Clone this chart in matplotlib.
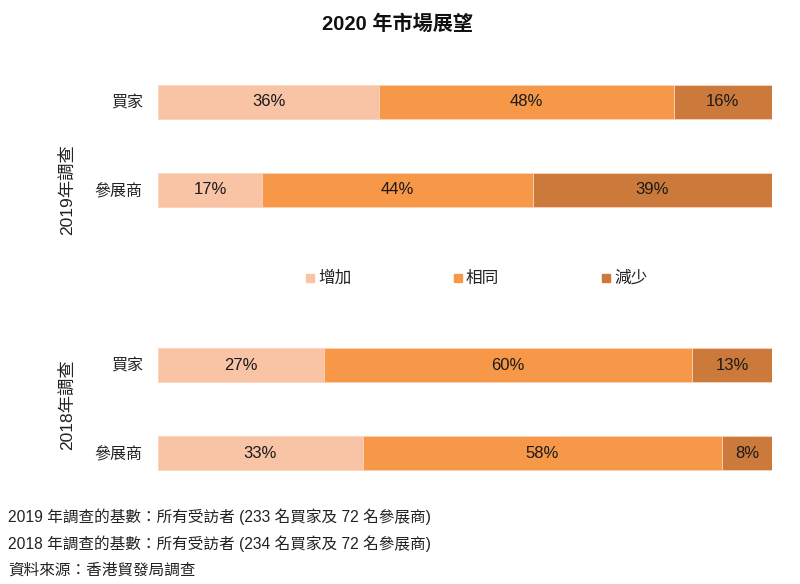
import matplotlib
matplotlib.use("Agg")
import matplotlib.pyplot as plt
from matplotlib.patches import Rectangle

plt.rcParams['font.family'] = ['Liberation Sans', 'Noto Sans CJK TC', 'DejaVu Sans']

title = "2020 年市場展望"
categories = ["買家", "參展商"]
series_names = ["增加", "相同", "減少"]
colors = ["#F9C3A6", "#F79748", "#CB7A3B"]
survey_2019 = {"增加": [36, 17], "相同": [48, 44], "減少": [16, 39]}
survey_2018 = {"增加": [27, 33], "相同": [60, 58], "減少": [13, 8]}
group_labels = ["2019年調查", "2018年調查"]
notes = [
    "2019 年調查的基數：所有受訪者 (233 名買家及 72 名參展商)",
    "2018 年調查的基數：所有受訪者 (234 名買家及 72 名參展商)",
    "資料來源：香港貿發局調查",
]

W, H = 800, 584
fig = plt.figure(figsize=(8, 5.84), dpi=100)

def fx(px): return px / W
def fy(py): return 1 - py / H

def draw_group(ax, data):
    ys = list(range(len(categories)))
    totals = [sum(data[n][i] for n in series_names) for i in ys]
    left = [0.0] * len(categories)
    for name, col in zip(series_names, colors):
        vals = data[name]
        widths = [v / t * 100 for v, t in zip(vals, totals)]
        ax.barh(ys, widths, left=left, height=0.386, color=col,
                edgecolor="#FBD3BC", linewidth=0.6)
        for y, l, w, v in zip(ys, left, widths, vals):
            ax.text(l + w / 2, y, f"{v}%", ha="center", va="center",
                    fontsize=12, color="#1a1a1a")
        left = [a + b for a, b in zip(left, widths)]
    ax.set_xlim(0, 100)
    ax.set_ylim(len(categories) - 0.5, -0.5)
    ax.set_yticks(ys)
    ax.set_yticklabels(categories, fontsize=11.5, color="#222222")
    ax.tick_params(axis="y", length=0, pad=11)
    ax.set_xticks([])
    for s in ax.spines.values():
        s.set_visible(False)

ax1 = fig.add_axes([fx(158), fy(234), fx(772 - 158), 176 / H])
draw_group(ax1, survey_2019)
ax2 = fig.add_axes([fx(158), fy(497), fx(772 - 158), 176 / H])
draw_group(ax2, survey_2018)

fig.text(fx(67), fy(190), group_labels[0], rotation=90, ha="center", va="center",
         fontsize=12.5, color="#222222")
fig.text(fx(67), fy(405), group_labels[1], rotation=90, ha="center", va="center",
         fontsize=12.5, color="#222222")

fig.text(fx(397), fy(24), title, ha="center", va="center", fontsize=14.5,
         fontweight="bold", color="#111111")

# legend
leg_x = [310, 458, 606]
for x, name, col in zip(leg_x, series_names, colors):
    fig.patches.append(Rectangle((fx(x - 4), fy(282)), fx(8), 8 / H,
                                 transform=fig.transFigure, color=col))
    fig.text(fx(x + 8), fy(278), name, ha="left", va="center",
             fontsize=12, color="#222222")

for i, n in enumerate(notes):
    fig.text(fx(8), fy(517 + 26.5 * i), n, ha="left", va="center",
             fontsize=11.25, color="#222222")

fig.savefig("out.png", dpi=100)
